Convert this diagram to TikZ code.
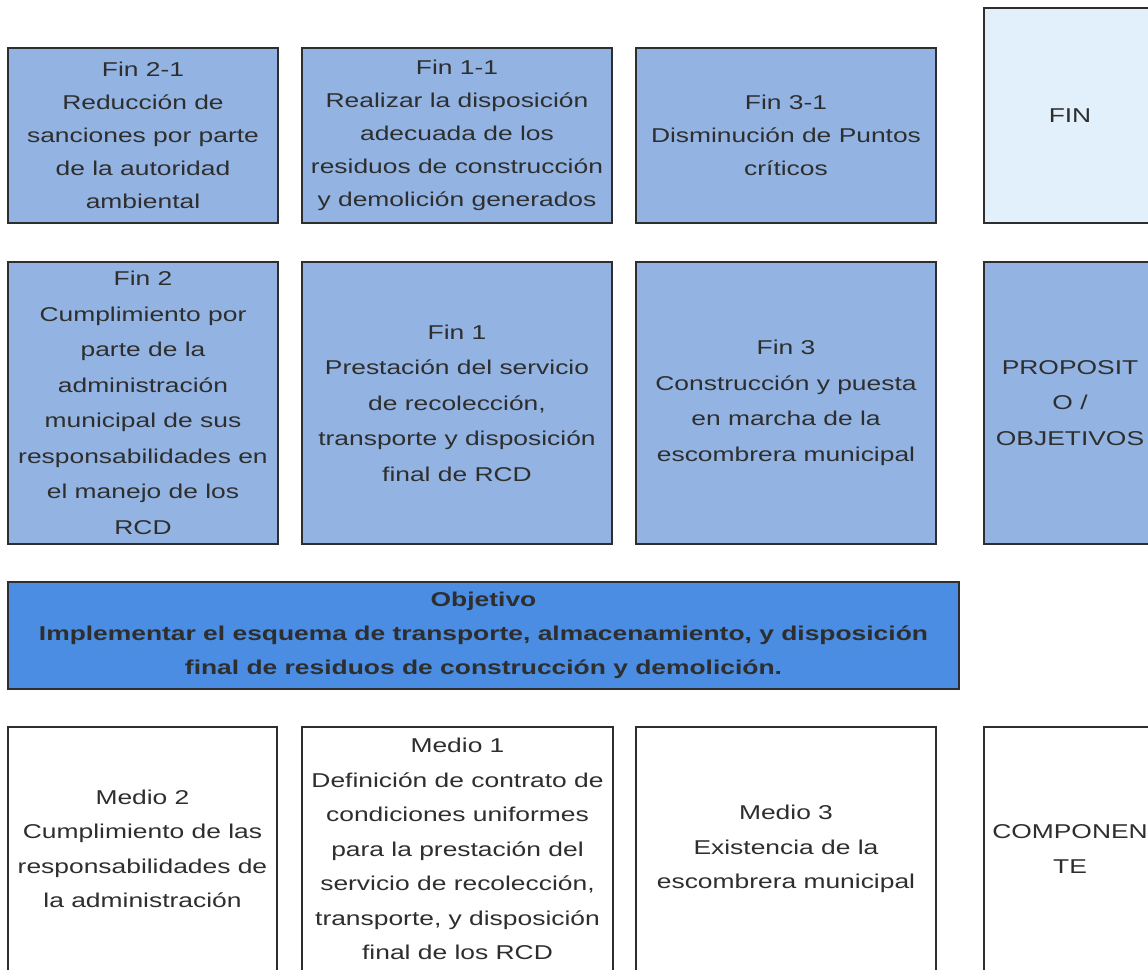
\documentclass[tikz,border=0pt]{standalone}
\usepackage{fontspec}
\setmainfont[FakeStretch=1.32]{Liberation Sans}
\definecolor{finblue}{HTML}{93B4E3}
\definecolor{objblue}{HTML}{4A8DE2}
\definecolor{paleblue}{HTML}{E1F0FA}
\definecolor{inkgray}{HTML}{2E2E2E}
\begin{document}
\begin{tikzpicture}[x=1pt, y=-1pt,
    every node/.style={draw=inkgray, line width=1.3pt, text=inkgray, align=center, inner sep=0pt,
        font=\fontsize{20}{34}\selectfont},
    finbox/.style={fill=finblue, minimum height=175pt, font=\fontsize{20}{33}\selectfont},
    propbox/.style={fill=finblue, minimum height=282pt, font=\fontsize{20}{35.5}\selectfont},
    mediobox/.style={fill=white, minimum height=244pt, font=\fontsize{20}{34.5}\selectfont}]

    \clip (0,0) rectangle (1148,969);
    \fill[white] (0,0) rectangle (1148,969);

    % fines
    \node[finbox, minimum width=270pt] (fin21) at (143,135.5)
        {Fin 2-1\\Reducción de\\sanciones por parte\\de la autoridad\\ambiental};
    \node[finbox, minimum width=310pt] (fin11) at (457,135.5)
        {Fin 1-1\\Realizar la disposición\\adecuada de los\\residuos de construcción\\y demolición generados};
    \node[finbox, minimum width=300pt] (fin31) at (786,135.5)
        {Fin 3-1\\Disminución de Puntos\\críticos};
    \node[fill=paleblue, minimum width=172pt, minimum height=215pt] (fin) at (1070,115.5) {FIN};

    % propositos
    \node[propbox, minimum width=270pt] (fin2) at (143,403)
        {Fin 2\\Cumplimiento por\\parte de la\\administración\\municipal de sus\\responsabilidades en\\el manejo de los\\RCD};
    \node[propbox, minimum width=310pt] (fin1) at (457,403)
        {Fin 1\\Prestación del servicio\\de recolección,\\transporte y disposición\\final de RCD};
    \node[propbox, minimum width=300pt] (fin3) at (786,403)
        {Fin 3\\Construcción y puesta\\en marcha de la\\escombrera municipal};
    \node[propbox, minimum width=172pt] (proposito) at (1070,403)
        {PROPOSIT\\O /\\OBJETIVOS};

    \node[fill=objblue, minimum width=951pt, minimum height=107pt,
        font=\fontsize{20}{34}\selectfont\bfseries] (objetivo) at (483.5,635.5)
        {Objetivo\\Implementar el esquema de transporte, almacenamiento, y disposición\\final de residuos de construcción y demolición.};

    % medios
    \node[mediobox, minimum width=269pt] (medio2) at (142.5,849)
        {Medio 2\\Cumplimiento de las\\responsabilidades de\\la administración};
    \node[mediobox, minimum width=311pt] (medio1) at (457.5,849)
        {Medio 1\\Definición de contrato de\\condiciones uniformes\\para la prestación del\\servicio de recolección,\\transporte, y disposición\\final de los RCD};
    \node[mediobox, minimum width=300pt] (medio3) at (786,849)
        {Medio 3\\Existencia de la\\escombrera municipal};
    \node[mediobox, minimum width=172pt] (componente) at (1070,849)
        {COMPONEN\\TE};

\end{tikzpicture}
\end{document}
